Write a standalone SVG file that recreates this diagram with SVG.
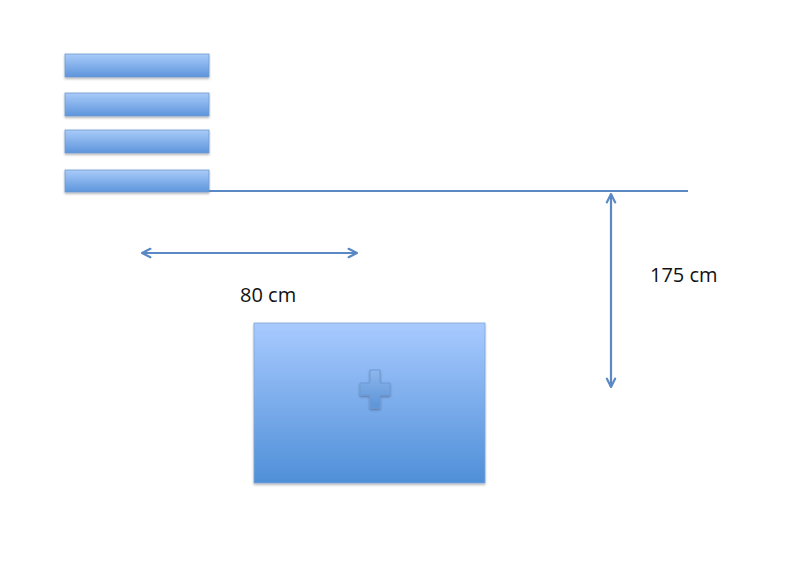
<svg xmlns="http://www.w3.org/2000/svg" width="800" height="568" viewBox="0 0 800 568">
<style>
.bar{fill:url(#gb);stroke:#6f9ad0;stroke-width:0.8}
.ln{stroke:#5a88c4;stroke-width:2.2;fill:none}
.lbl{font-family:"Open Sans","Liberation Sans",sans-serif;font-size:20px;fill:#111}
</style>
<defs>
<linearGradient id="gb" x1="0" y1="0" x2="0" y2="1">
<stop offset="0" stop-color="#a9cbf9"/>
<stop offset="1" stop-color="#5d95dc"/>
</linearGradient>
<linearGradient id="gr" x1="0" y1="0" x2="0" y2="1">
<stop offset="0" stop-color="#a8caff"/>
<stop offset="1" stop-color="#4f8fd8"/>
</linearGradient>
<linearGradient id="gc" x1="0" y1="0" x2="0" y2="1">
<stop offset="0" stop-color="#8db6ec"/>
<stop offset="1" stop-color="#5c94d8"/>
</linearGradient>
<filter id="sh" x="-10%" y="-10%" width="120%" height="130%">
<feDropShadow dx="0" dy="1.5" stdDeviation="1.2" flood-color="#000" flood-opacity="0.3"/>
</filter>
<marker id="ah" viewBox="0 0 10 10" refX="9" refY="5" markerWidth="12" markerHeight="12" orient="auto-start-reverse" markerUnits="userSpaceOnUse">
<path d="M2,1.5 L9,5 L2,8.5" fill="none" stroke="#5a88c4" stroke-width="1.8" stroke-linecap="round" stroke-linejoin="round"/>
</marker>
</defs>
<g id="bar1"><rect class="bar" x="65" y="54" width="144" height="23" filter="url(#sh)"/></g>
<g id="bar2"><rect class="bar" x="65" y="93" width="144" height="23" filter="url(#sh)"/></g>
<g id="bar3"><rect class="bar" x="65" y="130" width="144" height="23" filter="url(#sh)"/></g>
<g id="bar4"><rect class="bar" x="65" y="170" width="144" height="22" filter="url(#sh)"/></g>
<g id="box">
<rect x="254" y="323" width="231" height="160" fill="url(#gr)" stroke="#7fa6d8" stroke-width="0.8" filter="url(#sh)"/>
<path d="M370,370 h10 v13 h10 v12 h-10 v13 h-10 v-13 h-10 v-12 h10 z" fill="url(#gc)" stroke="#6c9ad4" stroke-width="1" filter="url(#sh)"/>
</g>
<g id="connectors">
<line class="ln" x1="209" y1="191" x2="688" y2="191"/>
<line class="ln" x1="611" y1="194" x2="611" y2="387" marker-start="url(#ah)" marker-end="url(#ah)"/>
<line class="ln" x1="142" y1="253" x2="357" y2="253" marker-start="url(#ah)" marker-end="url(#ah)"/>
</g>
<g id="labels">
<text class="lbl" x="240" y="302">80 cm</text>
<text class="lbl" x="650" y="282">175 cm</text>
</g>
</svg>
